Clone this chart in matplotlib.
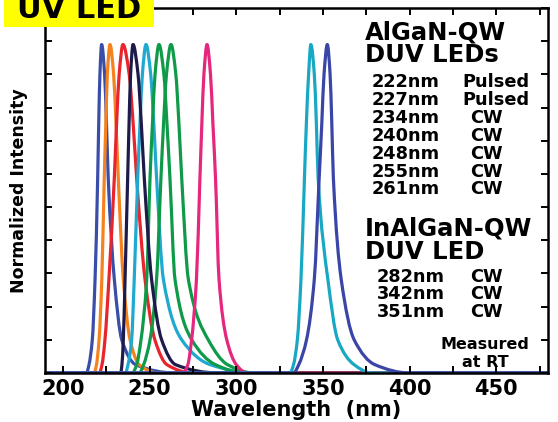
import matplotlib
matplotlib.use('Agg')
import numpy as np
import matplotlib.pyplot as plt
from matplotlib.patches import Rectangle, PathPatch
from matplotlib.path import Path
from matplotlib.ticker import MultipleLocator

plt.rcParams['font.family'] = ['DejaVu Sans']
plt.rcParams['font.weight'] = 'bold'

# intensity levels at which the curve edges were read (peak is 0.99)
levels = [0.0, 0.025, 0.1, 0.283, 0.587, 0.75, 0.9]
peak_level = 0.99

# wavelength (nm) of the short side / peak / long side at each level
left_222 = [213.5, 215.0, 216.9, 218.5, 220.0, 220.6, 221.3]
peak_222 = 222.3
right_222 = [224.0, 225.1, 226.1, 229.6, 233.9, 242.0, 265.0]

left_227 = [218.0, 219.3, 220.8, 222.4, 223.8, 224.7, 225.6]
peak_227 = 227.1
right_227 = [229.2, 230.6, 231.9, 234.8, 238.7, 244.0, 255.0]

left_234 = [221.0, 222.5, 224.2, 226.5, 229.6, 230.9, 232.4]
peak_234 = 234.6
right_234 = [238.2, 240.5, 242.5, 247.3, 253.0, 260.0, 275.0]

left_240 = [233.3, 234.0, 234.8, 235.8, 237.3, 238.1, 239.0]
peak_240 = 240.4
right_240 = [243.3, 245.2, 246.9, 251.1, 256.9, 265.0, 290.0]

left_248 = [236.0, 237.5, 239.6, 241.1, 243.1, 244.4, 245.8]
peak_248 = 247.9
right_248 = [250.6, 252.4, 254.0, 257.9, 268.5, 285.0, 310.0]

left_255 = [240.0, 242.5, 245.0, 248.3, 250.2, 251.6, 253.1]
peak_255 = 255.4
right_255 = [258.2, 260.0, 261.7, 264.6, 274.3, 288.0, 305.0]

left_261 = [244.0, 246.5, 250.2, 254.0, 256.5, 258.0, 259.7]
peak_261 = 262.3
right_261 = [265.1, 266.9, 268.5, 272.3, 283.8, 295.0, 310.0]

left_282 = [269.0, 272.0, 274.2, 277.0, 279.0, 280.1, 281.3]
peak_282 = 283.1
right_282 = [285.1, 286.5, 288.0, 290.0, 294.5, 300.0, 306.0]

left_342 = [331.0, 333.0, 335.2, 337.3, 339.3, 340.4, 341.7]
peak_342 = 343.0
right_342 = [345.0, 346.2, 347.2, 352.8, 358.5, 368.0, 378.0]

left_351 = [333.0, 336.0, 340.5, 345.0, 347.8, 349.3, 350.6]
peak_351 = 352.5
right_351 = [354.1, 355.1, 356.0, 360.5, 368.0, 380.0, 400.0]

curves = [
    (left_222, peak_222, right_222, '#3a4da8'),
    (left_227, peak_227, right_227, '#f5821f'),
    (left_234, peak_234, right_234, '#e8242c'),
    (left_248, peak_248, right_248, '#1fa9d0'),
    (left_255, peak_255, right_255, '#0e9a48'),
    (left_261, peak_261, right_261, '#0e9a48'),
    (left_240, peak_240, right_240, '#1e1b4b'),
    (left_282, peak_282, right_282, '#e5287e'),
    (left_342, peak_342, right_342, '#18a8c4'),
    (left_351, peak_351, right_351, '#3a45a8'),
]

aln_rows = ['222nm', '227nm', '234nm', '240nm', '248nm', '255nm', '261nm']
aln_mode = ['Pulsed', 'Pulsed', 'CW', 'CW', 'CW', 'CW', 'CW']
inaln_rows = ['282nm', '342nm', '351nm']
inaln_mode = ['CW', 'CW', 'CW']


def smooth_path(xs, ys):
    # monotone cubic (Fritsch-Carlson) through the read points, as bezier segments
    x = np.asarray(xs, float)
    y = np.asarray(ys, float)
    h = np.diff(x)
    d = np.diff(y) / h
    m = np.zeros_like(x)
    for k in range(1, len(x) - 1):
        if d[k - 1] * d[k] > 0:
            w1 = 2 * h[k] + h[k - 1]
            w2 = h[k] + 2 * h[k - 1]
            m[k] = (w1 + w2) / (w1 / d[k - 1] + w2 / d[k])
    verts = [(x[0], y[0])]
    codes = [Path.MOVETO]
    for k in range(len(x) - 1):
        verts += [(x[k] + h[k] / 3, y[k] + m[k] * h[k] / 3),
                  (x[k + 1] - h[k] / 3, y[k + 1] - m[k + 1] * h[k] / 3),
                  (x[k + 1], y[k + 1])]
        codes += [Path.CURVE4] * 3
    return Path(verts, codes)


fig = plt.figure(figsize=(5.58, 4.22), dpi=100)
ax = fig.add_axes([0.0806, 0.1161, 0.9014, 0.8649])

for left, peak, right, col in curves:
    xs = [190.0] + left + [peak] + right + [480.0]
    ys = [0.0] + levels + [peak_level] + levels[::-1] + [0.0]
    ax.add_patch(PathPatch(smooth_path(xs, ys), facecolor='none', edgecolor=col,
                           lw=2.3, joinstyle='round', capstyle='round'))

ax.set_xlim(189.6, 479.8)
ax.set_ylim(0, 1.10)
ax.xaxis.set_major_locator(MultipleLocator(50))
ax.xaxis.set_minor_locator(MultipleLocator(25))
ax.yaxis.set_major_locator(MultipleLocator(0.1))
ax.set_yticklabels([])
ax.tick_params(which='both', direction='in', top=True, right=True,
               length=5, width=1.4, labelsize=15, pad=4)
for lab in ax.get_xticklabels():
    lab.set_fontweight('bold')
for s in ax.spines.values():
    s.set_linewidth(1.8)
    s.set_zorder(3)

ax.set_xlabel('Wavelength  (nm)', fontsize=15, fontweight='bold', labelpad=1)
ax.set_ylabel('Normalized Intensity', fontsize=12.5, fontweight='bold', labelpad=8)

tr = ax.transAxes
ax.text(0.636, 0.934, 'AlGaN-QW', transform=tr, fontsize=17.5, fontweight='bold', va='center')
ax.text(0.636, 0.871, 'DUV LEDs', transform=tr, fontsize=17.5, fontweight='bold', va='center')
row_y = [0.797, 0.748, 0.699, 0.649, 0.600, 0.551, 0.504]
for yy, nm, mode in zip(row_y, aln_rows, aln_mode):
    ax.text(0.650, yy, nm, transform=tr, fontsize=12.8, fontweight='bold', va='center')
    xm = 0.829 if mode == 'Pulsed' else 0.845
    ax.text(xm, yy, mode, transform=tr, fontsize=12.8, fontweight='bold', va='center')

ax.text(0.636, 0.395, 'InAlGaN-QW', transform=tr, fontsize=17.5, fontweight='bold', va='center')
ax.text(0.636, 0.332, 'DUV LED', transform=tr, fontsize=17.5, fontweight='bold', va='center')
row_y2 = [0.263, 0.216, 0.167]
for yy, nm, mode in zip(row_y2, inaln_rows, inaln_mode):
    ax.text(0.660, yy, nm, transform=tr, fontsize=12.8, fontweight='bold', va='center')
    ax.text(0.845, yy, mode, transform=tr, fontsize=12.8, fontweight='bold', va='center')
ax.text(0.875, 0.077, 'Measured', transform=tr, fontsize=11.5, fontweight='bold',
        va='center', ha='center')
ax.text(0.875, 0.030, 'at RT', transform=tr, fontsize=11.5, fontweight='bold',
        va='center', ha='center')

# yellow title tag, cut off at the top of the image as in the source
fig.patches.append(Rectangle((0.0072, 0.936), 0.269, 0.07, transform=fig.transFigure,
                             facecolor='#ffff00', edgecolor='none', zorder=5))
fig.text(0.03, 0.958, 'UV LED', fontsize=22, fontweight='bold', va='baseline',
         zorder=6)

fig.savefig('out.png', dpi=100)
